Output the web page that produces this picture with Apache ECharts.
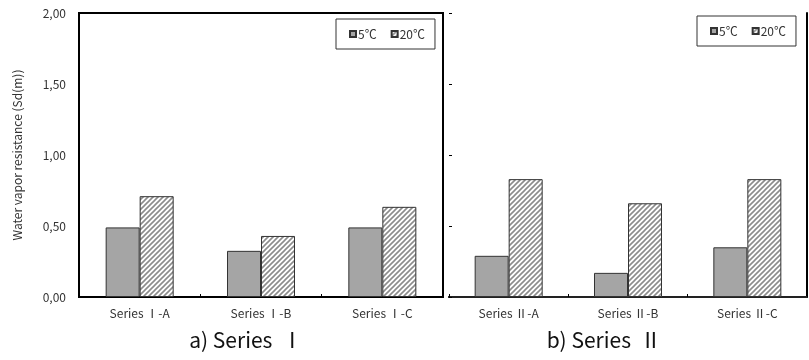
<!DOCTYPE html>
<html>
<head>
<meta charset="utf-8">
<script src="https://cdn.jsdelivr.net/npm/echarts@6/dist/echarts.min.js"></script>
<style>html,body{margin:0;padding:0;background:#fff}#c{width:809px;height:360px}</style>
</head>
<body>
<div id="c"></div>
<script>
const categoriesA = ['Series Ⅰ-A', 'Series Ⅰ-B', 'Series Ⅰ-C'];
const categoriesB = ['Series Ⅱ-A', 'Series Ⅱ-B', 'Series Ⅱ-C'];
const seriesNames = ['5℃', '20℃'];
const valuesA5 = [0.49, 0.325, 0.49];
const valuesA20 = [0.71, 0.43, 0.635];
const valuesB5 = [0.29, 0.17, 0.35];
const valuesB20 = [0.83, 0.66, 0.83];
const yTicks = [0, 0.5, 1.0, 1.5, 2.0];
const titles = ['a) Series  Ⅰ', 'b) Series  Ⅱ'];
const yName = 'Water vapor resistance (Sd(m))';

const FONT = '"Noto Sans CJK KR", "Noto Sans", sans-serif';

function hatch() {
  const s = 5;
  const c = document.createElement('canvas');
  c.width = s; c.height = s;
  const g = c.getContext('2d');
  g.fillStyle = '#fff'; g.fillRect(0, 0, s, s);
  g.strokeStyle = '#8c8c8c'; g.lineWidth = 1.6;
  g.beginPath();
  g.moveTo(-1, s + 1); g.lineTo(s + 1, -1);
  g.moveTo(-1, 1); g.lineTo(1, -1);
  g.moveTo(s - 1, s + 1); g.lineTo(s + 1, s - 1);
  g.stroke();
  return c;
}
const pat = { image: hatch(), repeat: 'repeat' };
const solid = '#a5a5a5';

const chart = echarts.init(document.getElementById('c'), null, { renderer: 'canvas' });

const fmt = v => v.toFixed(2).replace('.', ',');

function bar(name, data, idx, color) {
  return {
    type: 'bar', name, data, xAxisIndex: idx, yAxisIndex: idx,
    barWidth: 34, barGap: '0%',
    itemStyle: { color, borderColor: '#333', borderWidth: 1 },
    emphasis: { disabled: true }, animation: false
  };
}

const legendCommon = {
  data: seriesNames, orient: 'horizontal', icon: 'rect',
  itemWidth: 6, itemHeight: 6, itemGap: 14,
  borderColor: '#333', borderWidth: 1, padding: [9, 10, 9, 13],
  textStyle: { fontSize: 12, color: '#333', fontFamily: FONT, padding: [0, 0, 0, -3] },
  selectedMode: false
};

chart.setOption({
  animation: false,
  backgroundColor: '#fff',
  title: [
    { text: titles[0], left: 241, top: 325, textAlign: 'center',
      textStyle: { fontSize: 21, fontWeight: 'normal', color: '#111', fontFamily: FONT } },
    { text: titles[1], left: 599, top: 325, textAlign: 'center',
      textStyle: { fontSize: 21, fontWeight: 'normal', color: '#111', fontFamily: FONT } }
  ],
  legend: [
    Object.assign({ left: 336, top: 19 }, legendCommon),
    Object.assign({ left: 697, top: 16 }, legendCommon)
  ],
  grid: [
    { left: 79, right: 366, top: 13, bottom: 63, show: true, borderColor: '#000', borderWidth: 2, backgroundColor: 'transparent' },
    { left: 449, right: 2, top: 13, bottom: 63 }
  ],
  xAxis: [
    { type: 'category', gridIndex: 0, data: categoriesA,
      axisLine: { lineStyle: { color: '#000', width: 2 } },
      axisTick: { show: true, inside: true, length: 3, lineStyle: { color: '#000' } },
      axisLabel: { fontSize: 12, color: '#333', margin: 10, fontFamily: FONT } },
    { type: 'category', gridIndex: 1, data: categoriesB,
      axisLine: { lineStyle: { color: '#000', width: 2 } },
      axisTick: { show: true, inside: true, length: 3, lineStyle: { color: '#000' } },
      axisLabel: { fontSize: 12, color: '#333', margin: 10, fontFamily: FONT } },
    { type: 'category', gridIndex: 1, data: categoriesB, position: 'top',
      axisLine: { lineStyle: { color: '#222', width: 2 } },
      axisTick: { show: false }, axisLabel: { show: false } }
  ],
  yAxis: [
    { type: 'value', gridIndex: 0, min: 0, max: 2, interval: 0.5,
      name: yName, nameLocation: 'middle', nameGap: 56, nameRotate: 90,
      nameTextStyle: { fontSize: 12, color: '#333', fontFamily: FONT },
      axisLine: { show: true, lineStyle: { color: '#000', width: 2 } },
      axisTick: { show: false },
      splitLine: { show: false },
      axisLabel: { fontSize: 12, color: '#333', margin: 13, fontFamily: FONT,
        formatter: v => yTicks.includes(v) ? fmt(v) : '' } },
    { type: 'value', gridIndex: 1, min: 0, max: 2, interval: 0.5,
      axisLine: { show: false },
      axisTick: { show: true, inside: true, length: 3, lineStyle: { color: '#000' } },
      splitLine: { show: false }, axisLabel: { show: false } },
    { type: 'value', gridIndex: 1, min: 0, max: 2, interval: 0.5, position: 'right',
      axisLine: { show: true, lineStyle: { color: '#000', width: 2 } },
      axisTick: { show: false }, splitLine: { show: false }, axisLabel: { show: false } }
  ],
  series: [
    bar(seriesNames[0], valuesA5, 0, solid),
    bar(seriesNames[1], valuesA20, 0, pat),
    bar(seriesNames[0], valuesB5, 1, solid),
    bar(seriesNames[1], valuesB20, 1, pat)
  ]
});
</script>
</body>
</html>
